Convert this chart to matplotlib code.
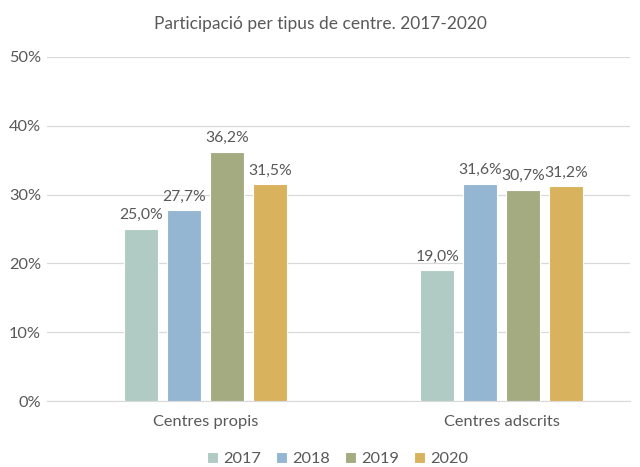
import numpy as np
import matplotlib
matplotlib.use('Agg')
import matplotlib.pyplot as plt

plt.rcParams['font.family'] = ['Lato', 'DejaVu Sans']

categories = ['Centres propis', 'Centres adscrits']
years = ['2017', '2018', '2019', '2020']
values = {
    '2017': [25.0, 19.0],
    '2018': [27.7, 31.6],
    '2019': [36.2, 30.7],
    '2020': [31.5, 31.2],
}
colors = ['#B0CBC3', '#94B6D2', '#A5AB81', '#D8B25C']
text_color = '#595959'

fig = plt.figure(figsize=(6.4, 4.67), dpi=100)
ax = fig.add_axes([0.073, 0.141, 0.911, 0.737])

x = np.arange(len(categories))
pitch = 0.145
width = 0.115
for i, (year, color) in enumerate(zip(years, colors)):
    pos = x + (i - 1.5) * pitch
    bars = ax.bar(pos, values[year], width, color=color, edgecolor='white',
                  linewidth=0.8, label=year, zorder=3)
    for b, v in zip(bars, values[year]):
        ax.text(b.get_x() + b.get_width() / 2, v + 1.0,
                f'{v:.1f}%'.replace('.', ','), ha='center', va='bottom',
                fontsize=11.3, color=text_color)

ax.set_ylim(0, 50)
ax.set_xlim(-0.535, 1.432)
ax.set_yticks(range(0, 51, 10))
ax.set_yticklabels([f'{t}%' for t in range(0, 51, 10)])
ax.set_xticks(x)
ax.set_xticklabels(categories)
ax.yaxis.grid(True, color='#D9D9D9', linewidth=0.9, zorder=0)
ax.tick_params(length=0, colors=text_color, labelsize=11.8)
ax.tick_params(axis='y', pad=4)
ax.tick_params(axis='x', pad=10)
for side in ['top', 'right', 'left']:
    ax.spines[side].set_visible(False)
ax.spines['bottom'].set_color('#D9D9D9')
ax.set_axisbelow(True)

fig.suptitle('Participació per tipus de centre. 2017-2020', y=0.965,
             fontsize=12.5, color=text_color)
fig.legend(loc='lower center', ncol=4, frameon=False, fontsize=11.8,
           bbox_to_anchor=(0.527, -0.03), handlelength=0.7, handleheight=0.7,
           handletextpad=0.3, columnspacing=0.9, labelcolor=text_color)

fig.savefig('out.png', dpi=100)
